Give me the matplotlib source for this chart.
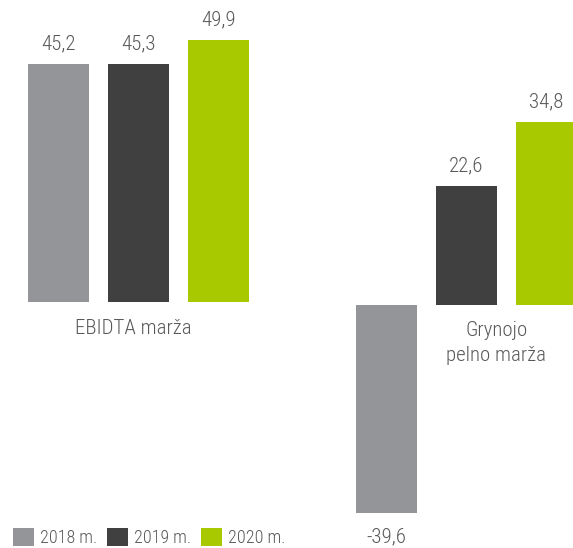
import matplotlib
matplotlib.use("Agg")
import matplotlib.pyplot as plt
from matplotlib import font_manager
from matplotlib.font_manager import FontProperties

categories = ["EBIDTA marža", "Grynojo\npelno marža"]
series = ["2018 m.", "2019 m.", "2020 m."]
ebitda = [45.2, 45.3, 49.9]
net = [-39.6, 22.6, 34.8]
colors = ["#939598", "#404040", "#a8c800"]
txt = "#58595b"

# choose the narrowest, lightest font available
cond = ("condensed", "semi-condensed", "extra-condensed", "ultra-condensed")
fl = font_manager.fontManager.ttflist
def wnum(w):
    try:
        return int(w)
    except Exception:
        return {"light": 300, "normal": 400, "regular": 400, "book": 400}.get(str(w), 400)
cands = [f for f in fl if (f.stretch in cond or "Condensed" in f.name or "Narrow" in f.name)
         and f.style == "normal"]
if cands:
    cands.sort(key=lambda f: (0 if "Roboto" in f.name else 1, abs(wnum(f.weight) - 300)))
    fp = FontProperties(fname=cands[0].fname)
else:
    fp = FontProperties(family=["Roboto", "DejaVu Sans"], weight="light")

W, H = 573, 548
fig = plt.figure(figsize=(W / 100, H / 100), dpi=100)
scale = 5.26  # px per unit

def make_ax(baseline):
    ax = fig.add_axes([0, 0, 1, 1])
    ax.set_xlim(-58.5 / 80, (W - 58.5) / 80)
    ax.set_ylim((baseline - H) / scale, baseline / scale)
    ax.axis("off")
    ax.patch.set_alpha(0)
    return ax

ax1 = make_ax(302)
ax2 = make_ax(305)

x1 = [0, 1, 2]
x2 = [4.1, 5.1, 6.1]
w = 61 / 80
fs = 15

def P(size):
    p = fp.copy()
    p.set_size(size)
    return p

bars = []
for ax, xs, vals in [(ax1, x1, ebitda), (ax2, x2, net)]:
    for i, (x, v) in enumerate(zip(xs, vals)):
        b = ax.bar(x, v, width=w, color=colors[i], label=series[i], clip_on=False)
        bars.append(b)
        lab = f"{v:.1f}".replace(".", ",")
        off = 20 if v >= 0 else -24
        ax.annotate(lab, (x, v), xytext=(0, off), textcoords="offset pixels",
                    ha="center", va="center", fontproperties=P(fs), color=txt)

ax1.annotate(categories[0], (1, 0), xytext=(-5, -27), textcoords="offset pixels",
             ha="center", va="center", fontproperties=P(fs), color=txt)
ax2.annotate(categories[1], (5.6, 0), xytext=(-10, -38), textcoords="offset pixels",
             ha="center", va="center", fontproperties=P(fs), color=txt, linespacing=1.45)

leg = ax1.legend(handles=bars[:3], labels=series, loc="lower left",
                 bbox_to_anchor=(13 / W, 1 / H), ncol=3, frameon=False,
                 prop=P(13), handlelength=1.15, handleheight=1.15,
                 handletextpad=0.35, columnspacing=0.55, borderaxespad=0, borderpad=0)
for t in leg.get_texts():
    t.set_color(txt)

fig.savefig("out.png", dpi=100)
